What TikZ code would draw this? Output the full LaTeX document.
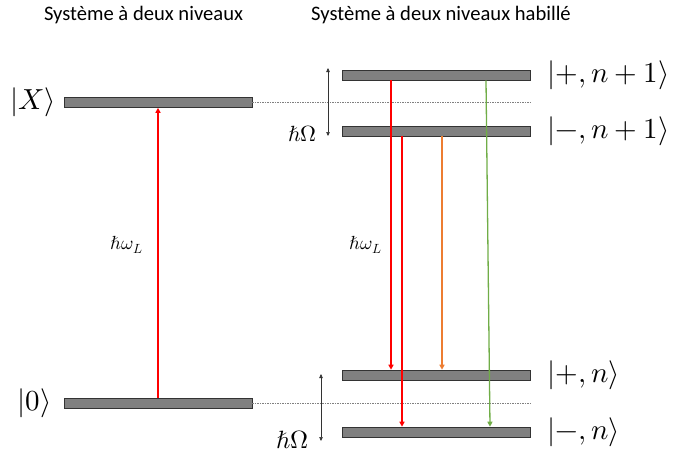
\documentclass[tikz,border=0pt]{standalone}
\usepackage{fontspec}
\usepackage{unicode-math}
\setmainfont{Carlito}
\usetikzlibrary{arrows.meta}
\colorlet{lvlfill}{gray}
\definecolor{lred}{RGB}{255,0,0}
\definecolor{lorange}{RGB}{237,125,49}
\definecolor{lgreen}{RGB}{112,173,71}

\begin{document}
\begin{tikzpicture}[x=1pt,y=-1pt,
    level/.style={draw=black!80,fill=lvlfill,line width=0.6pt,
      minimum width=188pt,minimum height=10pt,inner sep=0pt},
    ket/.style={font=\fontsize{29}{33}\selectfont,inner sep=0pt},
    title/.style={font=\fontsize{20.6}{24}\selectfont},
    lbl/.style={inner sep=0pt},
    guide/.style={gray,line width=0.4pt,dash pattern=on 1.5pt off 1pt},
    split/.style={{Triangle[width=3.5pt,length=4pt]}-{Triangle[width=3.5pt,length=4pt]},
      black!80,line width=0.5pt},
    trans/.style={-{Triangle[width=5pt,length=5pt]},line width=1.3pt}]
    \useasboundingbox (0,0) rectangle (679,459);
    % Titles
    \node[title] (t1) at (143.5,15) {Système à deux niveaux};
    \node[title] (t2) at (441,15) {Système à deux niveaux habillé};
    % Levels
    \node[level] (X) at (158,102.5) {};
    \node[level] (G) at (158,403) {};
    \node[level] (p1) at (436,75) {};
    \node[level] (m1) at (436,131) {};
    \node[level] (p0) at (436,375) {};
    \node[level] (m0) at (436,432) {};
    \node[ket,anchor=east] at ([xshift=-8pt]X.west) {$|X\rangle$};
    \node[ket,anchor=east] at ([xshift=-12pt]G.west) {$|0\rangle$};
    \node[ket,anchor=west] at ([xshift=17pt]p1.east) {$|+,n+1\rangle$};
    \node[ket,anchor=west] at ([xshift=17pt]m1.east) {$|-,n+1\rangle$};
    \node[ket,anchor=west] at ([xshift=17pt]p0.east) {$|+,n\rangle$};
    \node[ket,anchor=west] at ([xshift=17pt]m0.east) {$|-,n\rangle$};
    % Guides
    \draw[guide] (X.east) -- (X.east -| p1.east);
    \draw[guide] (G.east) -- (G.east -| p0.east);
    % Splittings
    \coordinate (s1) at (328,68);
    \coordinate (s2) at (328,136);
    \draw[split] (s1) -- (s2);
    \node[lbl,anchor=east,font=\fontsize{22}{24}\selectfont] at (317,134) {$\hbar\Omega$};
    \coordinate (s3) at (321,374);
    \coordinate (s4) at (321,441);
    \draw[split] (s3) -- (s4);
    \node[lbl,anchor=east,font=\fontsize{25}{27}\selectfont] at (309,440) {$\hbar\Omega$};
    % Transitions
    \draw[trans,lred,line width=2pt] (G.north -| 158,0) -- (X.south -| 158,0);
    \node[lbl,font=\fontsize{19}{22}\selectfont] at (127,245) {$\hbar\omega_L$};
    \draw[trans,lred] (p1.south -| 391,0) -- (p0.north -| 391,0);
    \draw[trans,lred] (m1.south -| 402,0) -- (m0.north -| 402,0);
    \node[lbl,font=\fontsize{19}{22}\selectfont] at (366,245) {$\hbar\omega_L$};
    \draw[trans,lorange] (m1.south -| 442,0) -- (p0.north -| 442,0);
    \draw[trans,lgreen] (p1.south -| 486,0) -- (m0.north -| 490,0);
\end{tikzpicture}
\end{document}
